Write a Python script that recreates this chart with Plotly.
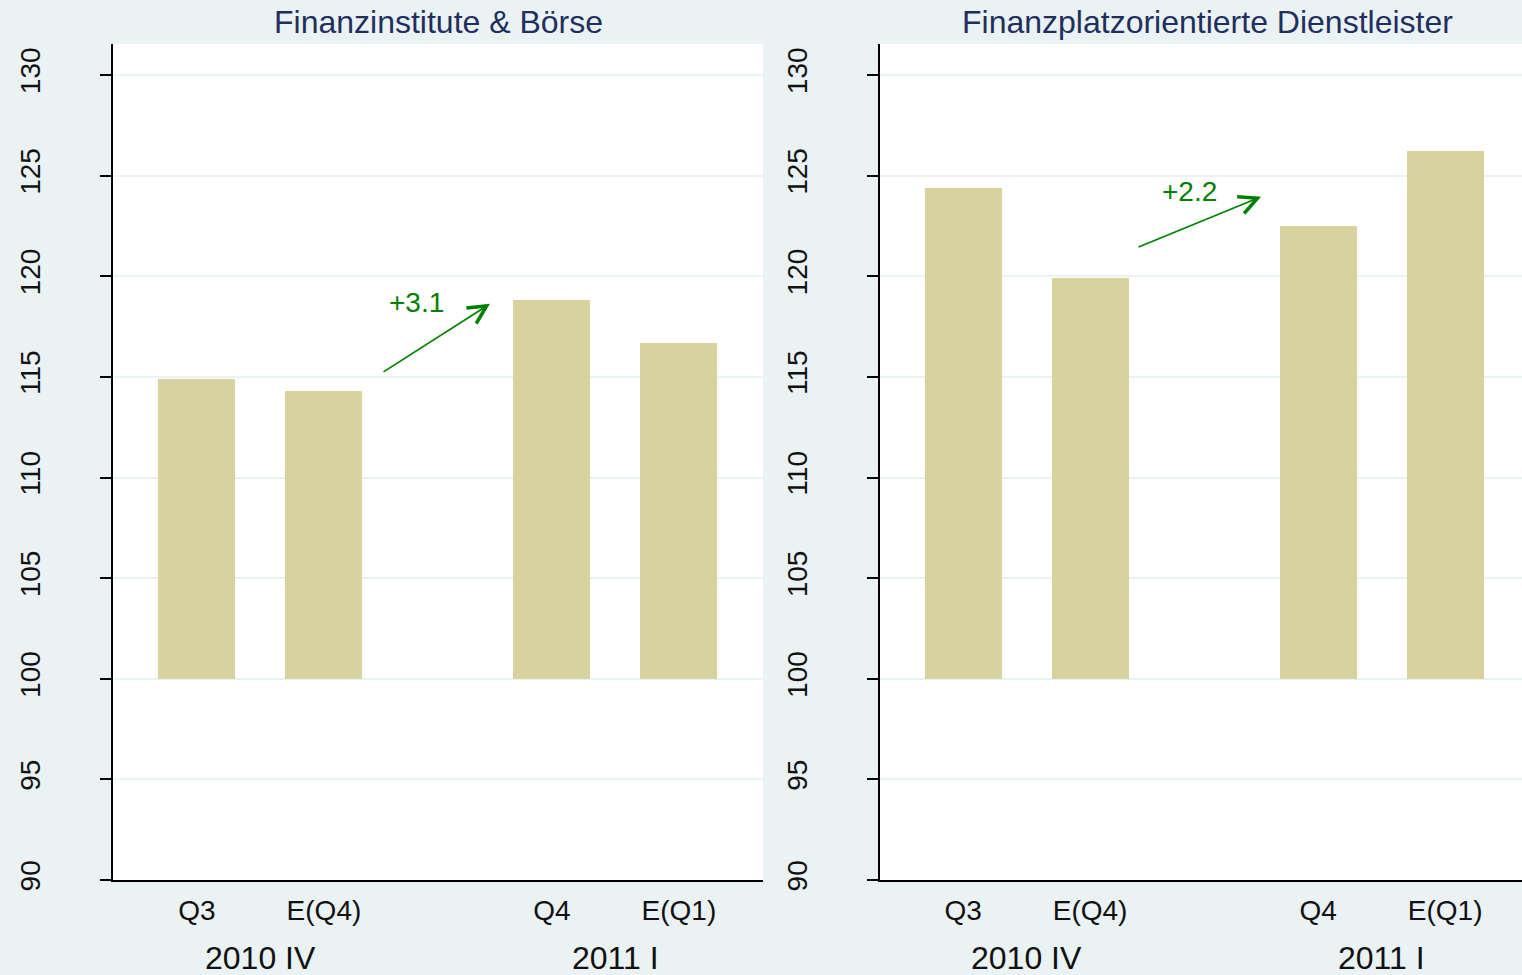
import plotly.graph_objects as go

# ---- data ----
panel_titles = ["Finanzinstitute & Börse", "Finanzplatzorientierte Dienstleister"]
categories = ["Q3", "E(Q4)", "Q4", "E(Q1)"]
group_labels = ["2010 IV", "2011 I"]
values_fin = [114.9, 114.3, 118.8, 116.7]
values_dienst = [124.4, 119.9, 122.5, 126.2]
change_labels = ["+3.1", "+2.2"]
y_ticks = [90, 95, 100, 105, 110, 115, 120, 125, 130]
base_value = 100

# ---- layout constants ----
xpos = [0, 1, 2.795, 3.795]
group_centers = [0.5, 3.295]
bar_color = "#D8D29E"
bg_color = "#EAF2F3"
title_color = "#1F2F5F"
arrow_color = "#008000"
font_family = "Liberation Sans, Arial, sans-serif"

W, H = 1522, 975
fig = go.Figure()

panels = [values_fin, values_dienst]
domains = [[113 / W, 763 / W], [880 / W, 1.0]]
xranges = [[-0.661, 4.457], [-0.654, 4.40]]
arrows = [  # (tail_x, tail_y, head_x, head_y, label_x, label_y)
    (1.457, 115.2, 2.307, 118.63, 1.732, 118.7),
    (1.370, 121.42, 2.346, 123.95, 1.78, 124.2),
]

for i, vals in enumerate(panels):
    xa = "x" if i == 0 else "x2"
    ya = "y" if i == 0 else "y2"
    fig.add_trace(go.Bar(
        x=xpos, y=[v - base_value for v in vals], base=base_value,
        width=0.606, marker=dict(color=bar_color, line=dict(width=0)),
        xaxis=xa, yaxis=ya, showlegend=False, hoverinfo="skip",
    ))
    sfx = "" if i == 0 else str(i + 1)
    fig.layout["xaxis" + sfx] = dict(
        domain=domains[i], range=xranges[i], tickvals=xpos, ticktext=categories,
        showgrid=False, zeroline=False, showline=True, linecolor="black", linewidth=2,
        ticks="", tickfont=dict(size=28, color="#111"), anchor=ya,
        ticklabelstandoff=4,
    )
    fig.layout["yaxis" + sfx] = dict(
        domain=[0, 1], range=[90, 131.54], tickvals=y_ticks,
        showgrid=True, gridcolor=bg_color, gridwidth=1.5, zeroline=False,
        showline=True, linecolor="black", linewidth=2,
        ticks="outside", ticklen=11, tickwidth=1.5, tickcolor="black",
        tickangle=-90, tickfont=dict(size=28, color="#111"), anchor=xa,
        ticklabelstandoff=49,
    )
    # panel title
    fig.add_annotation(
        text=panel_titles[i], xref="paper", yref="paper",
        x=(domains[i][0] + domains[i][1]) / 2 + (0.004 if i == 1 else 0), y=1,
        yshift=22, xanchor="center", yanchor="middle", showarrow=False,
        font=dict(size=32, color=title_color),
    )
    # group labels
    for g, gl in zip(group_centers, group_labels):
        fig.add_annotation(
            text=gl, xref=xa, yref="paper", x=g, y=-0.093,
            xanchor="center", yanchor="middle", showarrow=False,
            font=dict(size=32, color="#111"),
        )
    tx, ty, hx, hy, lx, ly = arrows[i]
    fig.add_annotation(
        x=hx, y=hy, ax=tx, ay=ty, xref=xa, yref=ya, axref=xa, ayref=ya,
        text="", showarrow=True, arrowhead=5, arrowsize=2.1, arrowwidth=1.7,
        arrowcolor=arrow_color,
    )
    fig.add_annotation(
        x=lx, y=ly, xref=xa, yref=ya, text=change_labels[i], showarrow=False,
        font=dict(size=28, color=arrow_color), xanchor="center", yanchor="middle",
    )

fig.update_layout(
    width=W, height=H, margin=dict(l=0, r=0, t=44, b=95),
    paper_bgcolor=bg_color, plot_bgcolor="white",
    font=dict(family=font_family), bargap=0,
)

fig.write_html(
    "out.html",
    config={"displayModeBar": False},
    post_script="document.body.style.margin='0';document.body.style.overflow='hidden';",
)
